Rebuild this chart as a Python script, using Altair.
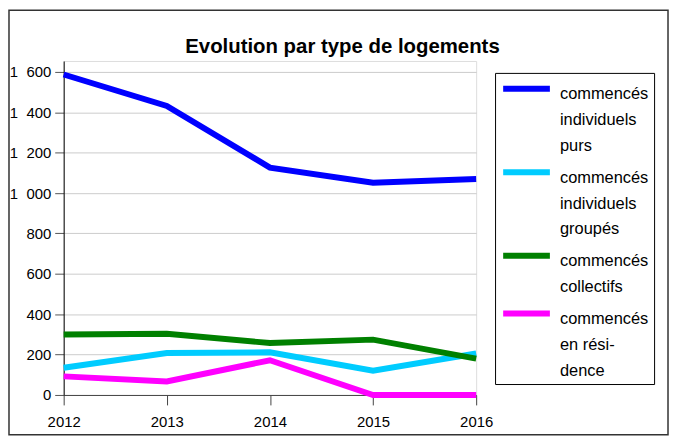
import altair as alt
import pandas as pd

years = [2012, 2013, 2014, 2015, 2016]
series_names = [
    "commencés individuels purs",
    "commencés individuels groupés",
    " commencés collectifs",
    "commencés en rési- dence",
]
label_lines = {
    "commencés individuels purs": ["commencés", "individuels", "purs"],
    "commencés individuels groupés": ["commencés", "individuels", "groupés"],
    " commencés collectifs": [" commencés", "collectifs"],
    "commencés en rési- dence": ["commencés", "en rési-", "dence"],
}
purs = [1587, 1431, 1126, 1051, 1069]
groupes = [135, 208, 211, 120, 205]
collectifs = [299, 303, 257, 274, 180]
residence = [92, 67, 172, 0, 0]
colors = ["#0000FF", "#00CCFF", "#008000", "#FF00FF"]
widths = [6, 6, 6, 4]

rows = []
for name, vals in zip(series_names, [purs, groupes, collectifs, residence]):
    for y, v in zip(years, vals):
        rows.append({"annee": str(y), "serie": name, "valeur": v})
df = pd.DataFrame(rows)

expr_parts = []
for k, lines in label_lines.items():
    arr = "[" + ",".join("'" + l + "'" for l in lines) + "]"
    expr_parts.append(f"datum.label === '{k}' ? {arr}")
label_expr = " : ".join(expr_parts) + " : datum.label"

W, H = 415, 336
PL, PT, PR, PB = 56, 52, 194, 41
FONT = "Liberation Sans"
DY = -2.5

lines = alt.Chart(df).mark_line(strokeCap="butt", strokeJoin="miter").encode(
    x=alt.X("annee:O", scale=alt.Scale(padding=0), title=None,
            axis=alt.Axis(labelAngle=0, labelFont=FONT, labelFontSize=15,
                          labelColor="#000", tickSize=10, tickColor="#444",
                          domainColor="#444", labelPadding=12, grid=False)),
    y=alt.Y("valeur:Q", scale=alt.Scale(domain=[0, 1654], nice=False), title=None,
            axis=alt.Axis(values=[0, 200, 400, 600, 800, 1000, 1200, 1400, 1600],
                          labelExpr="replace(format(datum.value, ','), ',', '\u2007')",
                          labelFont=FONT, labelFontSize=15, labelColor="#000",
                          tickSize=9, tickColor="#555", domainColor="#000",
                          labelOffset=-DY,
                          labelPadding=4, gridColor="#cccccc", gridWidth=1)),
    color=alt.Color("serie:N", sort=series_names,
                    scale=alt.Scale(domain=series_names, range=colors),
                    legend=alt.Legend(title=None, orient="none", legendX=434, legendY=12,
                                      symbolType="M-1,0L5,0", symbolSize=245.4,
                                      symbolStrokeWidth=5, labelExpr=label_expr,
                                      labelFont=FONT, labelFontSize=16.5,
                                      labelColor="#000", labelBaseline="top",
                                      labelOffset=38.3, labelLimit=200,
                                      rowPadding=6,
                                      strokeColor="#000", fillColor="#fff",
                                      padding=5)),
    strokeWidth=alt.StrokeWidth("serie:N", scale=alt.Scale(domain=series_names, range=widths),
                                legend=None),
)

frame = alt.Chart(pd.DataFrame({"a": [0]})).mark_rect(
    fill=None, stroke="#333", strokeWidth=1.5, clip=False
).encode(
    x=alt.value(-PL + 1), x2=alt.value(W + PR - 1),
    y=alt.value(-PT + 1), y2=alt.value(H + PB - 1),
)

chart = alt.layer(lines, frame).properties(
    width=W, height=H,
    padding={"left": PL, "top": PT, "right": PR, "bottom": PB},
    autosize=alt.AutoSizeParams(type="none"),
    title=alt.Title("Evolution par type de logements", font=FONT,
                    fontSize=20.5, fontWeight="bold", color="#000", anchor="middle",
                    dx=73, dy=54, offset=6),
).configure_view(stroke=None).configure(
    background="#fff", style={"guide-label": {"lineHeight": 26, "dy": DY}}
)

chart.save("out.html", embed_options={"renderer": "svg", "actions": False})
